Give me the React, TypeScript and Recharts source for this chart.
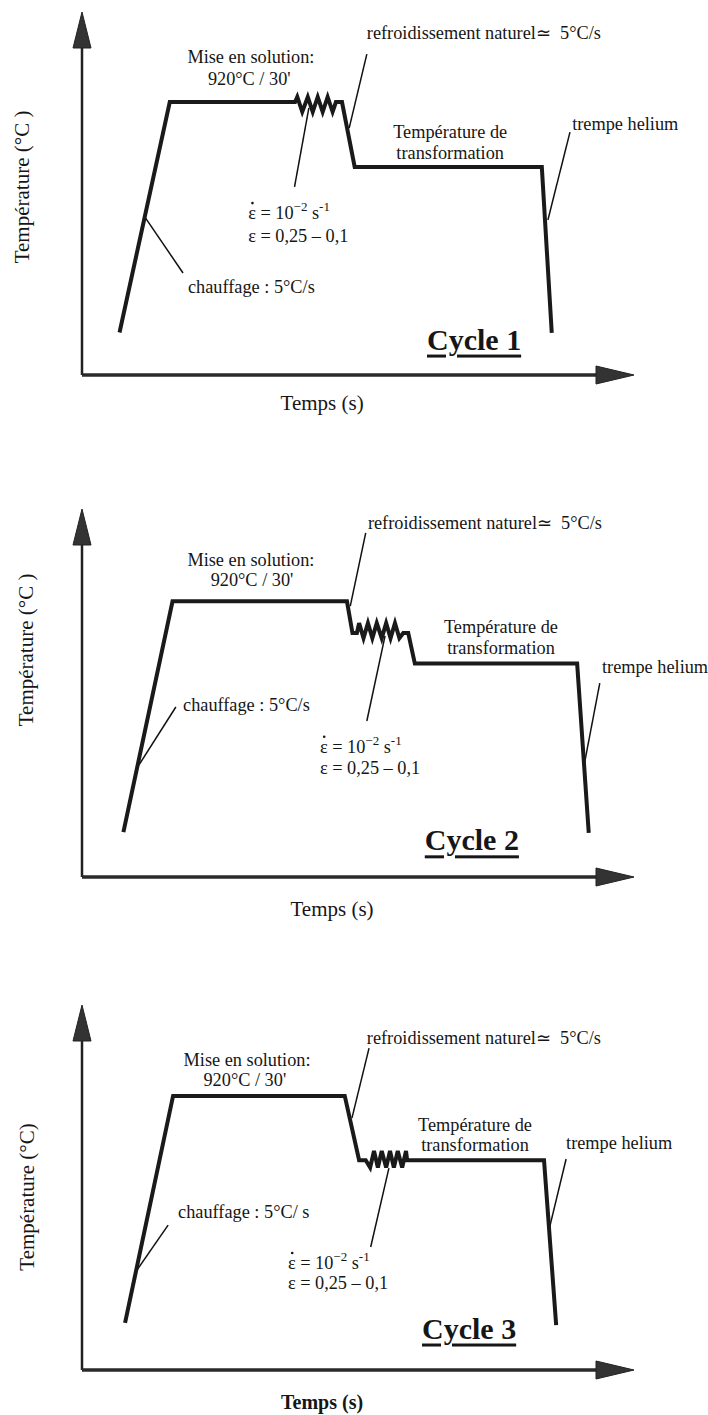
import React from 'react';
import { LineChart, Line, XAxis, YAxis, ReferenceLine, ReferenceDot } from 'recharts';

// schematic units: time 0-100 along the arrow, temperature 0-100 up the arrow
const cycle1Path = [
  { t: 6.8, T: 11.7 }, { t: 15.9, T: 75.2 }, { t: 38.6, T: 75.2 },
  { t: 39.0, T: 76.6 }, { t: 39.9, T: 72.5 }, { t: 40.9, T: 76.6 }, { t: 41.8, T: 72.5 },
  { t: 42.7, T: 76.6 }, { t: 43.6, T: 72.5 }, { t: 44.5, T: 76.6 }, { t: 45.4, T: 72.5 },
  { t: 46.0, T: 75.2 }, { t: 47.1, T: 75.2 }, { t: 49.4, T: 57.3 }, { t: 83.3, T: 57.3 },
  { t: 85.1, T: 11.6 },
];

const cycle2Path = [
  { t: 7.5, T: 12.2 }, { t: 16.4, T: 74.9 }, { t: 48.0, T: 74.9 }, { t: 49.0, T: 66.3 },
  { t: 49.8, T: 66.3 }, { t: 50.2, T: 69.0 }, { t: 51.0, T: 64.9 }, { t: 51.8, T: 69.0 },
  { t: 52.6, T: 64.9 }, { t: 53.4, T: 69.0 }, { t: 54.3, T: 64.9 }, { t: 55.1, T: 69.0 },
  { t: 55.9, T: 64.9 }, { t: 56.7, T: 69.0 }, { t: 57.5, T: 64.9 }, { t: 58.2, T: 66.3 },
  { t: 59.1, T: 66.3 }, { t: 60.3, T: 58.0 }, { t: 89.7, T: 58.0 }, { t: 91.8, T: 12.0 },
];

const cycle3Path = [
  { t: 7.8, T: 12.9 }, { t: 16.5, T: 75.1 }, { t: 47.6, T: 75.1 }, { t: 50.2, T: 57.5 },
  { t: 51.4, T: 57.5 }, { t: 52.2, T: 55.5 }, { t: 52.9, T: 60.0 }, { t: 53.6, T: 55.5 },
  { t: 54.3, T: 60.0 }, { t: 55.1, T: 55.5 }, { t: 55.8, T: 60.0 }, { t: 56.5, T: 55.5 },
  { t: 57.2, T: 60.0 }, { t: 58.0, T: 55.5 }, { t: 58.7, T: 60.0 }, { t: 58.9, T: 57.5 },
  { t: 83.7, T: 57.5 }, { t: 85.9, T: 12.3 },
];

// leader lines: [t1, T1, t2, T2]
const cycle1Leaders = [
  [11.4, 43.5, 18.3, 28.1],
  [41.1, 73.6, 38.5, 51.8],
  [51.6, 88.4, 48.4, 68.0],
  [88.4, 66.9, 84.4, 42.7],
];
const cycle2Leaders = [
  [17.0, 46.2, 10.3, 30.4],
  [54.9, 65.5, 51.6, 42.4],
  [51.4, 93.5, 48.6, 73.6],
  [93.8, 52.7, 90.9, 29.9],
];
const cycle3Leaders = [
  [15.6, 39.7, 9.6, 26.6],
  [55.6, 55.3, 52.3, 33.7],
  [52.0, 88.2, 48.9, 69.0],
  [87.7, 57.8, 84.6, 38.4],
];

type Note = {
  x: number; y: number; text: string;
  kind?: 'plain' | 'rate' | 'cycle' | 'ylabel' | 'xlabel';
  anchor?: 'start' | 'middle' | 'end';
  bold?: boolean;
};

const cycle1Notes: Note[] = [
  { x: 30.6, y: 87.6, text: 'Mise en solution:', anchor: 'middle' },
  { x: 30.3, y: 81.5, text: "920°C / 30'", anchor: 'middle' },
  { x: 51.6, y: 94.2, text: 'refroidissement naturel\u2243\u00a0 5°C/s' },
  { x: 66.7, y: 66.9, text: 'Température de', anchor: 'middle' },
  { x: 66.7, y: 61.2, text: 'transformation', anchor: 'middle' },
  { x: 88.8, y: 69.1, text: 'trempe helium' },
  { x: 30.1, y: 44.6, text: '', kind: 'rate' },
  { x: 30.1, y: 38.3, text: 'ε = 0,25 – 0,1' },
  { x: 19.2, y: 24.2, text: 'chauffage : 5°C/s' },
  { x: 62.5, y: 9.9, text: 'Cycle 1', kind: 'cycle' },
  { x: 43.5, y: -7.7, text: 'Temps (s)', kind: 'xlabel' },
  { x: -10.9, y: 51.8, text: 'Température (°C )', kind: 'ylabel' },
];

const cycle2Notes: Note[] = [
  { x: 30.6, y: 86.1, text: 'Mise en solution:', anchor: 'middle' },
  { x: 30.8, y: 80.7, text: "920°C / 30'", anchor: 'middle' },
  { x: 51.8, y: 96.2, text: 'refroidissement naturel\u2243\u00a0 5°C/s' },
  { x: 75.9, y: 68.0, text: 'Température de', anchor: 'middle' },
  { x: 75.9, y: 62.2, text: 'transformation', anchor: 'middle' },
  { x: 94.2, y: 57.1, text: 'trempe helium' },
  { x: 43.1, y: 35.4, text: '', kind: 'rate' },
  { x: 43.1, y: 29.5, text: 'ε = 0,25 – 0,1' },
  { x: 18.3, y: 46.7, text: 'chauffage : 5°C/s' },
  { x: 62.1, y: 10.1, text: 'Cycle 2', kind: 'cycle' },
  { x: 45.3, y: -8.7, text: 'Temps (s)', kind: 'xlabel' },
  { x: -10.2, y: 61.7, text: 'Température (°C )', kind: 'ylabel' },
];

const cycle3Notes: Note[] = [
  { x: 29.9, y: 84.9, text: 'Mise en solution:', anchor: 'middle' },
  { x: 29.5, y: 79.5, text: "920°C / 30'", anchor: 'middle' },
  { x: 51.6, y: 91.0, text: 'refroidissement naturel\u2243\u00a0 5°C/s' },
  { x: 71.2, y: 67.1, text: 'Température de', anchor: 'middle' },
  { x: 71.2, y: 61.6, text: 'transformation', anchor: 'middle' },
  { x: 87.7, y: 62.2, text: 'trempe helium' },
  { x: 37.3, y: 29.3, text: '', kind: 'rate' },
  { x: 37.3, y: 23.8, text: 'ε = 0,25 – 0,1' },
  { x: 17.4, y: 43.3, text: 'chauffage : 5°C/ s' },
  { x: 61.6, y: 11.5, text: 'Cycle 3', kind: 'cycle' },
  { x: 43.5, y: -8.8, text: 'Temps (s)', kind: 'xlabel', bold: true },
  { x: -10.0, y: 47.4, text: 'Température (°C)', kind: 'ylabel' },
];

const FONT = '"Liberation Serif", "Times New Roman", serif';
const INK = '#161616';
const TEXT_SIZE = 18.3;

const panels = [
  { top: 0, height: 460, margin: { top: 12, bottom: 85, left: 82, right: 74 }, path: cycle1Path, leaders: cycle1Leaders, notes: cycle1Notes },
  { top: 470, height: 460, margin: { top: 39, bottom: 53, left: 82, right: 74 }, path: cycle2Path, leaders: cycle2Leaders, notes: cycle2Notes },
  { top: 960, height: 455, margin: { top: 45, bottom: 45, left: 82, right: 74 }, path: cycle3Path, leaders: cycle3Leaders, notes: cycle3Notes },
];

function renderNote(n: Note) {
  return (p: any) => {
    const { cx, cy } = p;
    const base = { fontFamily: FONT, fill: INK, dominantBaseline: 'central' as const, style: { whiteSpace: 'pre' as const } };
    if (n.kind === 'rate') {
      return (
        <g>
          <circle cx={cx + 4.3} cy={cy - 10} r={1.3} fill={INK} />
          <text x={cx} y={cy} fontSize={TEXT_SIZE} {...base}>
            {'\u03b5 = 10'}
            <tspan dy={-7} fontSize={13}>{'\u22122'}</tspan>
            <tspan dy={7}>{' s'}</tspan>
            <tspan dy={-7} fontSize={13}>-1</tspan>
          </text>
        </g>
      );
    }
    if (n.kind === 'cycle') {
      return (
        <text x={cx} y={cy} fontSize={30} fontWeight="bold" textDecoration="underline" {...base}>
          {n.text}
        </text>
      );
    }
    if (n.kind === 'ylabel') {
      return (
        <text x={cx} y={cy} fontSize={21} textAnchor="middle" transform={`rotate(-90 ${cx} ${cy})`} {...base}>
          {n.text}
        </text>
      );
    }
    if (n.kind === 'xlabel') {
      return (
        <text x={cx} y={cy} fontSize={n.bold ? 20 : 21} textAnchor="middle" fontWeight={n.bold ? 'bold' : 'normal'} {...base}>
          {n.text}
        </text>
      );
    }
    return (
      <text x={cx} y={cy} fontSize={TEXT_SIZE} textAnchor={n.anchor || 'start'} {...base}>
        {n.text}
      </text>
    );
  };
}

const upArrow = (p: any) => (
  <polygon points={`${p.cx},${p.cy} ${p.cx - 9},${p.cy + 36} ${p.cx + 9},${p.cy + 36}`} fill="#333" stroke="#222" strokeWidth={1} />
);
const rightArrow = (p: any) => (
  <polygon points={`${p.cx},${p.cy} ${p.cx - 38},${p.cy - 9} ${p.cx - 38},${p.cy + 9}`} fill="#333" stroke="#222" strokeWidth={1} />
);

function CyclePanel({ panel }: { panel: (typeof panels)[number] }) {
  return (
    <div style={{ position: 'absolute', left: 0, top: panel.top }}>
      <LineChart width={708} height={panel.height} margin={panel.margin}>
        <XAxis type="number" dataKey="t" domain={[0, 100]} hide />
        <YAxis type="number" dataKey="T" domain={[0, 100]} hide />
        <ReferenceLine segment={[{ x: 0, y: 0 }, { x: 0, y: 95 }]} stroke="#222" strokeWidth={2.5} />
        <ReferenceLine segment={[{ x: 0, y: 0 }, { x: 96, y: 0 }]} stroke="#2a2a2a" strokeWidth={3.5} />
        <ReferenceDot x={0} y={100} ifOverflow="visible" shape={upArrow} />
        <ReferenceDot x={100} y={0} ifOverflow="visible" shape={rightArrow} />
        {panel.leaders.map((l, i) => (
          <ReferenceLine
            key={`l${i}`}
            segment={[{ x: l[0], y: l[1] }, { x: l[2], y: l[3] }]}
            stroke="#111"
            strokeWidth={1.5}
          />
        ))}
        <Line
          data={panel.path}
          dataKey="T"
          type="linear"
          stroke="#1a1a1a"
          strokeWidth={4}
          strokeLinejoin="miter"
          dot={false}
          activeDot={false}
          isAnimationActive={false}
        />
        {panel.notes.map((n, i) => (
          <ReferenceDot key={`n${i}`} x={n.x} y={n.y} ifOverflow="visible" shape={renderNote(n)} />
        ))}
      </LineChart>
    </div>
  );
}

export default function App() {
  return (
    <div style={{ position: 'absolute', left: 0, top: 0, width: 708, height: 1415, background: '#fff' }}>
      {panels.map((p, i) => (
        <CyclePanel key={i} panel={p} />
      ))}
    </div>
  );
}
